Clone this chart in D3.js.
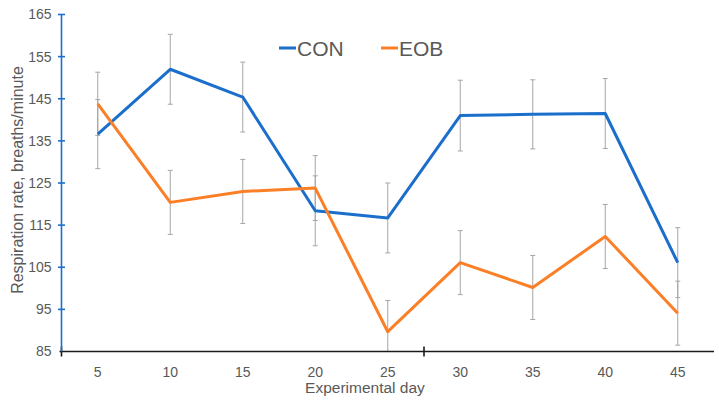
<!DOCTYPE html>
<html>
<head>
<meta charset="utf-8">
<script src="https://cdn.jsdelivr.net/npm/d3@7"></script>
<style>
  body { margin: 0; background: #fff; }
  svg { font-family: "Liberation Sans", Arial, sans-serif; }
</style>
</head>
<body>
<div id="chart"></div>
<script>
var days = ["5", "10", "15", "20", "25", "30", "35", "40", "45"];
var conValues = [136.6, 152.0, 145.4, 118.4, 116.7, 141.0, 141.3, 141.5, 106.1];
var conErrors = [8.2, 8.3, 8.3, 8.3, 8.3, 8.4, 8.2, 8.3, 8.3];
var eobValues = [143.8, 120.4, 123.0, 123.8, 89.7, 106.1, 100.2, 112.3, 94.1];
var eobErrors = [7.5, 7.6, 7.6, 7.7, 7.4, 7.6, 7.6, 7.6, 7.6];
var yTicks = [85, 95, 105, 115, 125, 135, 145, 155, 165];

var series = [
  { name: "CON", values: conValues, errors: conErrors, color: "#1b6fcb" },
  { name: "EOB", values: eobValues, errors: eobErrors, color: "#fb7f26" }
];

var width = 719, height = 404;
var plotLeft = 61.5, plotRight = 714, plotTop = 14.5, plotBottom = 351.5;

var svg = d3.select('#chart')
    .append('svg')
    .attr('width', width)
    .attr('height', height);

var x = d3.scaleBand()
    .domain(days)
    .range([plotLeft, plotRight]);

var y = d3.scaleLinear()
    .domain([85, 165])
    .range([plotBottom, plotTop]);

// error bars
var errG = svg.append('g');
series.forEach(function(s) {
  days.forEach(function(d, i) {
    var cx = x(d) + x.bandwidth() / 2;
    var hi = y(s.values[i] + s.errors[i]);
    var lo = y(Math.max(85, s.values[i] - s.errors[i]));
    errG.append('line')
        .attr('x1', cx).attr('x2', cx)
        .attr('y1', hi).attr('y2', lo)
        .style('stroke', '#a6a6a6').style('stroke-width', 1);
    [s.values[i] + s.errors[i], s.values[i] - s.errors[i]].forEach(function(v) {
      if (v < 85) return;
      errG.append('line')
          .attr('x1', cx - 2.5).attr('x2', cx + 2.5)
          .attr('y1', y(v)).attr('y2', y(v))
          .style('stroke', '#a6a6a6').style('stroke-width', 1);
    });
  });
});

var line = d3.line()
    .x(function(d, i) { return x(days[i]) + x.bandwidth() / 2; })
    .y(function(d) { return y(d); });

series.forEach(function(s) {
  svg.append('path')
      .datum(s.values)
      .attr('d', line)
      .style('fill', 'none')
      .style('stroke', s.color)
      .style('stroke-width', 3)
      .style('stroke-linejoin', 'round');
});

// x axis (black)
var xAxis = svg.append('g');
xAxis.append('line')
    .attr('x1', plotLeft - 2).attr('x2', plotRight)
    .attr('y1', plotBottom).attr('y2', plotBottom)
    .style('stroke', '#1a1a1a').style('stroke-width', 1.6);
[plotLeft, x(days[5])].forEach(function(px) {
  xAxis.append('line')
      .attr('x1', px).attr('x2', px)
      .attr('y1', plotBottom - 5).attr('y2', plotBottom + 5)
      .style('stroke', '#1a1a1a').style('stroke-width', 1.6);
});
xAxis.selectAll('text')
    .data(days)
    .enter()
    .append('text')
    .attr('x', function(d) { return x(d) + x.bandwidth() / 2; })
    .attr('y', 377)
    .attr('text-anchor', 'middle')
    .style('font-size', '14px')
    .style('fill', '#595959')
    .text(function(d) { return d; });

// y axis (blue)
var yAxis = svg.append('g')
    .attr('transform', 'translate(' + plotLeft + ',0)')
    .call(d3.axisLeft(y).tickValues(yTicks).tickSize(0).tickPadding(10));
yAxis.select('.domain').remove();
yAxis.selectAll('text')
    .style('font-size', '14px')
    .style('fill', '#595959')
    .style('font-family', '"Liberation Sans", Arial, sans-serif');
svg.append('line')
    .attr('x1', plotLeft).attr('x2', plotLeft)
    .attr('y1', plotTop).attr('y2', plotBottom)
    .style('stroke', '#1b6fcb').style('stroke-width', 1.6);
svg.selectAll('.ytick')
    .data(yTicks.slice(1))
    .enter()
    .append('line')
    .attr('class', 'ytick')
    .attr('x1', plotLeft - 3.5).attr('x2', plotLeft + 3.5)
    .attr('y1', function(d) { return y(d); })
    .attr('y2', function(d) { return y(d); })
    .style('stroke', '#1b6fcb').style('stroke-width', 1.6);

// axis titles
svg.append('text')
    .attr('transform', 'translate(23,' + ((plotTop + plotBottom) / 2 - 3) + ') rotate(-90)')
    .attr('text-anchor', 'middle')
    .style('font-size', '16px')
    .style('fill', '#595959')
    .text('Respiration rate, breaths/minute');

svg.append('text')
    .attr('x', 365)
    .attr('y', 393)
    .attr('text-anchor', 'middle')
    .style('font-size', '15.5px')
    .style('fill', '#595959')
    .text('Experimental day');

// legend
var legendX = [279, 381];
series.forEach(function(s, i) {
  var g = svg.append('g').attr('transform', 'translate(' + legendX[i] + ',48)');
  g.append('line')
      .attr('x1', 0).attr('x2', 17)
      .attr('y1', 0).attr('y2', 0)
      .style('stroke', s.color).style('stroke-width', 3);
  g.append('text')
      .attr('x', 18)
      .attr('y', 7.5)
      .style('font-size', '21px')
      .style('fill', '#595959')
      .text(s.name);
});
</script>
</body>
</html>
